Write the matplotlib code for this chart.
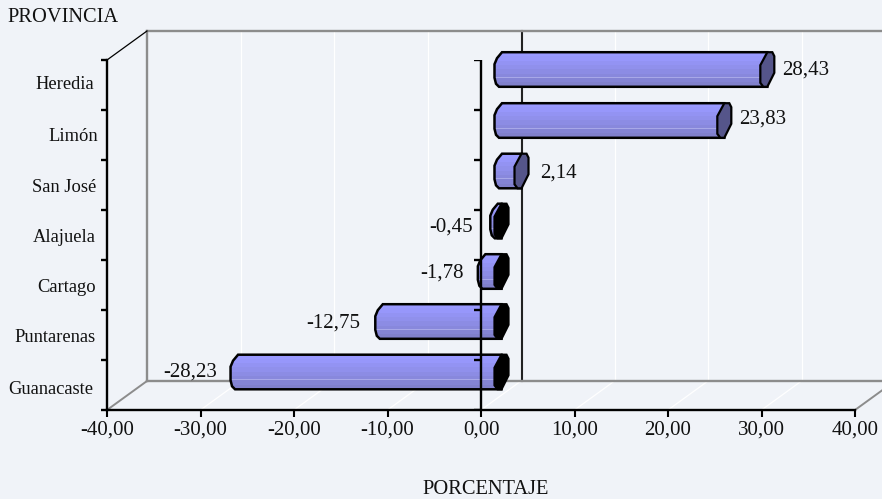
import matplotlib
matplotlib.use("Agg")
import matplotlib.pyplot as plt
from matplotlib.patches import Polygon
from matplotlib.transforms import ScaledTranslation

plt.rcParams['font.family'] = ['Liberation Serif', 'DejaVu Serif']

provincias = ["Heredia", "Limón", "San José", "Alajuela", "Cartago", "Puntarenas", "Guanacaste"]
valores = [28.43, 23.83, 2.14, -0.45, -1.78, -12.75, -28.23]
x_ticks = [-40, -30, -20, -10, 0, 10, 20, 30, 40]

W, H = 882, 499
BG = "#F0F3F8"
TXT = "#111111"
bands = ["#9999FF", "#9797FB", "#9393F3", "#9090EC", "#8C8CE4", "#8888DC", "#8484D4", "#8080CC"]

# small per-item placement nudges, in pixels
bar_lift = [15.5, 14.5, 14, 14, 13.5, 13.5, 13]
label_gap = [8, 8, 12, 17, 14, 15, 13]
label_dy = [1, -1, 2.5, 6.5, 2, 2, 0.5]
ylabel_right = [94, 98, 96, 96, 96, 96, 93]

fig = plt.figure(figsize=(W / 100, H / 100), dpi=100, facecolor=BG)
ax = fig.add_axes([107 / W, (H - 410) / H, 748 / W, 350 / H])
ax.patch.set_visible(False)
ax.set_xlim(-40, 40)
ax.set_ylim(7, 0)

ux = 748 / 80   # px per value unit
uy = 350 / 7    # px per category unit
px = lambda p: p / ux
py = lambda p: p / uy
DX, DY = px(40), py(29)

# back wall and floor
for t in x_ticks[1:-1]:
    ax.plot([t, t + DX], [7, 7 - DY], color="white", lw=0.9, clip_on=False, zorder=1)
    if t == 0:
        ax.plot([t + DX + px(1)] * 2, [-DY, 7 - DY], color="#222222", lw=1.5, clip_on=False, zorder=1)
    else:
        ax.plot([t + DX, t + DX], [-DY, 7 - DY], color="white", lw=0.9, clip_on=False, zorder=1)
gray = "#8C8C8C"
ax.plot([-40 + DX, -40 + DX], [-DY, 7 - DY], color=gray, lw=1.7, clip_on=False, zorder=1.1)
ax.plot([-40 + DX, 40 + DX], [-DY, -DY], color=gray, lw=1.7, clip_on=False, zorder=1.1)
ax.plot([-40 + DX, 40 + DX], [7 - DY, 7 - DY], color=gray, lw=1.7, clip_on=False, zorder=1.1)
ax.plot([-40, -40 + DX], [7, 7 - DY], color=gray, lw=1.4, clip_on=False, zorder=1.1)
ax.plot([40, 40 + DX], [7, 7 - DY], color=gray, lw=1.4, clip_on=False, zorder=1.1)
ax.plot([-40, -40 + DX], [0, -DY], color="black", lw=0.9, clip_on=False, zorder=1.1)

# front axes
for s in ("top", "right"):
    ax.spines[s].set_visible(False)
for s in ("left", "bottom"):
    ax.spines[s].set_linewidth(1.7)
ax.set_xticks(x_ticks)
ax.set_xticklabels([f"{t:.2f}".replace(".", ",") for t in x_ticks], fontsize=15, color=TXT)
ax.tick_params(axis="x", length=5, width=1.5, pad=2.5, color="black")
ax.set_yticks(range(8))
ax.set_yticklabels([])
ax.tick_params(axis="y", which="major", length=4.5, width=1.7)
ax.set_yticks([i + 0.5 for i in range(7)], provincias, minor=True, fontsize=13.3, color=TXT)
ax.tick_params(axis="y", which="minor", length=0, pad=0)
for lab, r, yy in zip(ax.get_yticklabels(minor=True), ylabel_right, [-2, 0, 1, 0, 1, 0, 2]):
    lab.set_ha("right")
    lab.set_transform(lab.get_transform() + ScaledTranslation((r - 107) / 100, -yy / 100, fig.dpi_scale_trans))

# zero axis lies over the bars
ax.plot([0, 0], [0, 7], color="black", lw=1.7, zorder=7)
ax.hlines(range(8), -px(7), 0, color="black", lw=1.7, zorder=7)

# bars
BASE = px(13.5)
CAP = px(14)
HALF = py(17.3)
for i, v in enumerate(valores):
    yc = i + 0.5 - py(bar_lift[i])
    top, bot = yc - HALF, yc + HALF
    left = BASE + min(v, 0)
    right = BASE + max(v, 0)
    body = Polygon([(left + px(7.5), top), (right + px(7), top), (right + px(7), bot),
                    (left + px(4.5), bot), (left + px(1.5), bot - py(3)), (left, bot - py(9)),
                    (left, top + py(12)), (left + px(2.5), top + py(6))],
                   closed=True, fc="none", ec="black", lw=1.8, clip_on=False, zorder=4)
    ax.add_patch(body)
    nb = len(bands)
    bh = (bot - top) / nb
    for k, c in enumerate(bands):
        rects = ax.barh(top + (k + 0.5) * bh, right + px(7) - left, height=bh + py(0.5),
                        left=left, color=c, lw=0, zorder=3)
        for r in rects:
            r.set_clip_box(None)
            r.set_clip_path(body)
    sheen = ax.barh(top + 0.72 * (bot - top), right + px(7) - left, height=py(1), left=left,
                    color="#A8A8E8", lw=0, zorder=3.1)
    for r in sheen:
        r.set_clip_box(None)
        r.set_clip_path(body)
    cc = "#55558A" if v > 0 else "black"
    ax.add_patch(Polygon([(right + px(7), top), (right + px(12), top), (right + CAP, top + py(4)),
                          (right + CAP, bot - py(14)), (right + px(7), bot),
                          (right + px(3), bot), (right, bot - py(4)), (right, top + py(13))],
                         closed=True, fc=cc, ec="black", lw=1.6, clip_on=False, zorder=5))
    label = f"{v:.2f}".replace(".", ",")
    gap = label_gap[i] * 0.72
    if v > 0:
        ax.annotate(label, (right + CAP, yc), xytext=(gap, -label_dy[i] * 0.72), textcoords="offset points",
                    ha="left", va="center", fontsize=15, color=TXT, zorder=6, annotation_clip=False)
    else:
        ax.annotate(label, (left, yc), xytext=(-gap, -label_dy[i] * 0.72), textcoords="offset points",
                    ha="right", va="center", fontsize=15, color=TXT, zorder=6, annotation_clip=False)

fig.text(7 / W, 1 - 18 / H, "PROVINCIA", fontsize=14.7, ha="left", va="center", color=TXT)
fig.text(486 / W, 1 - 490 / H, "PORCENTAJE", fontsize=14.7, ha="center", va="center", color=TXT)

fig.savefig("out.png", dpi=100, facecolor=BG)
